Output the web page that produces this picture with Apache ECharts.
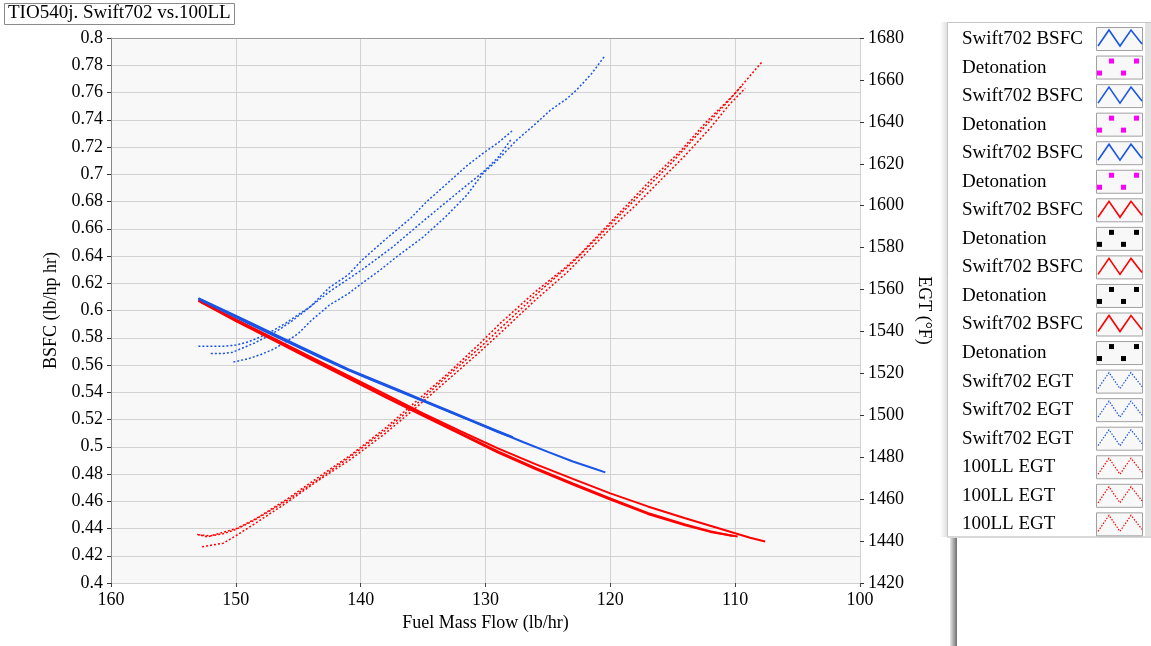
<!DOCTYPE html>
<html>
<head>
<meta charset="utf-8">
<script src="https://cdn.jsdelivr.net/npm/echarts/dist/echarts.min.js"></script>
<style>
html,body{margin:0;padding:0;background:#fff;}
#chart{width:1151px;height:646px;}
</style>
</head>
<body>
<div id="chart"></div>
<script>
// ---------- DATA ----------
const titleText = 'TIO540j. Swift702 vs.100LL';
const xTicks = [160, 150, 140, 130, 120, 110, 100];

// BSFC (left axis) – Swift702 (blue)
const blueBsfcX1 = [153, 151, 149, 147, 145, 143, 141, 139, 137, 135, 133, 131, 129, 127.8];
const blueBsfcY1 = [0.609, 0.6005, 0.5918, 0.583, 0.5742, 0.5655, 0.557, 0.5494, 0.5418, 0.5342, 0.5266, 0.519, 0.5114, 0.507];
const blueBsfcX2 = [152.8, 151, 149, 147, 145, 143, 141, 139, 137, 135, 133, 131, 129, 128.2];
const blueBsfcY2 = [0.6075, 0.5995, 0.5905, 0.5818, 0.5732, 0.5646, 0.5562, 0.5485, 0.541, 0.5335, 0.526, 0.5184, 0.5108, 0.508];
const blueBsfcX3 = [153, 151, 149, 147, 145, 143, 141, 139, 137, 135, 133, 131, 129, 127, 125, 123, 121.5, 120.4];
const blueBsfcY3 = [0.6085, 0.6, 0.5912, 0.5825, 0.5738, 0.565, 0.5566, 0.549, 0.5414, 0.5338, 0.5262, 0.5186, 0.511, 0.5035, 0.4962, 0.4892, 0.4846, 0.4812];

// BSFC (left axis) – 100LL (red)
const redBsfcX1 = [153, 150, 147, 144, 141, 138, 135, 132, 129, 126, 123, 120, 117, 114, 112, 110.2];
const redBsfcY1 = [0.607, 0.593, 0.579, 0.565, 0.551, 0.537, 0.5235, 0.51, 0.4965, 0.4845, 0.473, 0.462, 0.4515, 0.443, 0.438, 0.4345];
const redBsfcX2 = [152.8, 150, 147, 144, 141, 138, 135, 132, 129, 126, 123, 120, 117, 114, 112, 109.8];
const redBsfcY2 = [0.6062, 0.5922, 0.5782, 0.5642, 0.5502, 0.5362, 0.5227, 0.5092, 0.4957, 0.4837, 0.4722, 0.4612, 0.4507, 0.4423, 0.4375, 0.4342];
const redBsfcX3 = [153, 150, 147, 144, 141, 138, 135, 132, 129, 126, 123, 120, 117, 114, 112, 110, 108.8, 107.6];
const redBsfcY3 = [0.6075, 0.5935, 0.5797, 0.566, 0.5522, 0.5385, 0.5245, 0.5115, 0.4988, 0.4872, 0.4764, 0.4658, 0.4562, 0.4475, 0.442, 0.4365, 0.4332, 0.4305];

// EGT (right axis) – Swift702 (blue)
const blueEgtX1 = [153, 151, 150, 149, 148, 147, 146, 145, 144, 142.5, 141, 139.9, 138, 136, 134.7, 133, 131.5, 130.2, 129, 127.8];
const blueEgtY1 = [1533, 1533, 1533.5, 1535, 1537.5, 1540.5, 1544, 1548, 1552, 1561, 1567, 1574, 1584, 1594, 1602, 1611, 1619, 1625, 1630, 1636];
const blueEgtX2 = [152, 151, 150.3, 149.5, 148.5, 147.5, 146.5, 145.5, 144, 142.5, 140, 137.5, 135.2, 133.5, 131.8, 130.2, 129, 127.9];
const blueEgtY2 = [1529.5, 1529.5, 1530, 1532, 1534.5, 1537.5, 1541, 1545, 1552, 1559, 1569, 1580, 1591.6, 1600, 1608.3, 1616, 1623, 1632];
const blueEgtX3 = [150.2, 149, 148, 147, 146, 145, 144, 142.5, 141, 139.9, 138.5, 137.1, 135, 133.2, 131.5, 130.2, 129, 127.5, 126, 124.8, 123.5, 122.7, 121.5, 120.5];
const blueEgtY3 = [1525.4, 1527, 1529, 1531.5, 1535, 1539, 1545, 1552.6, 1558, 1563, 1569, 1575.7, 1585, 1594.7, 1605, 1615.4, 1622, 1631.3, 1639, 1645.6, 1651, 1655.2, 1663, 1671];

// EGT (right axis) – 100LL (red)
const redEgtX1 = [153.1, 152.3, 151.3, 149.9, 148.3, 145.9, 143.5, 140.8, 138, 135.5, 133, 130.5, 128.8, 126, 123.5, 122.4, 120, 118.4, 116.8, 114.4, 112.3, 110.1, 108.8, 107.8];
const redEgtY1 = [1443.2, 1442, 1443.7, 1446.1, 1451, 1460, 1470, 1481, 1494, 1507, 1520, 1534, 1544, 1559, 1571, 1577, 1592, 1602, 1612, 1626, 1640, 1653, 1662, 1669];
const redEgtX2 = [152.7, 151, 149.9, 148.3, 146, 143.5, 140.8, 138, 135.5, 133, 130.5, 128.5, 126, 123.5, 120, 118, 116, 114, 112, 110.5, 109.2];
const redEgtY2 = [1437.3, 1439, 1442.9, 1449, 1458, 1468.5, 1479, 1491.5, 1504, 1517, 1530, 1541, 1555, 1568, 1589, 1600, 1612, 1624, 1637, 1648, 1656];
const redEgtX3 = [153, 152, 151, 150, 148.5, 146, 143.5, 141, 138, 135.5, 133, 130.5, 128, 125.5, 123, 120, 117.5, 115, 113, 111, 109.5];
const redEgtY3 = [1443, 1442.5, 1443.5, 1445.5, 1450, 1459, 1469, 1479.5, 1493, 1505.5, 1519, 1532, 1546, 1560, 1573, 1591, 1606, 1621, 1634, 1647, 1657];

// Legend entries
const legendNames = ['Swift702 BSFC','Detonation','Swift702 BSFC','Detonation','Swift702 BSFC','Detonation',
  'Swift702 BSFC','Detonation','Swift702 BSFC','Detonation','Swift702 BSFC','Detonation',
  'Swift702 EGT','Swift702 EGT','Swift702 EGT','100LL EGT','100LL EGT','100LL EGT'];
const legendKinds = ['blueSolid','magentaDots','blueSolid','magentaDots','blueSolid','magentaDots',
  'redSolid','blackDots','redSolid','blackDots','redSolid','blackDots',
  'blueDotted','blueDotted','blueDotted','redDotted','redDotted','redDotted'];

// ---------- CHART ----------
const FONT = 'Liberation Serif';
const BLUE = '#1a55e6';
const RED = '#ff0000';
const zip = (xs, ys) => xs.map((x, i) => [x, ys[i]]);

function bsfc(xs, ys, color) {
  return { type:'line', xAxisIndex:0, yAxisIndex:0, data: zip(xs, ys), showSymbol:false, symbol:'none',
    lineStyle:{ color, width:2 }, itemStyle:{color}, z:3 };
}
function egt(xs, ys, color) {
  return { type:'line', xAxisIndex:0, yAxisIndex:1, data: zip(xs, ys), showSymbol:false, symbol:'none',
    lineStyle:{ color, width:1.5, type:[2,2] }, itemStyle:{color}, z:2 };
}

const series = [
  egt(blueEgtX1, blueEgtY1, BLUE), egt(blueEgtX2, blueEgtY2, BLUE), egt(blueEgtX3, blueEgtY3, BLUE),
  egt(redEgtX1, redEgtY1, RED), egt(redEgtX2, redEgtY2, RED), egt(redEgtX3, redEgtY3, RED),
  bsfc(redBsfcX1, redBsfcY1, RED), bsfc(redBsfcX2, redBsfcY2, RED), bsfc(redBsfcX3, redBsfcY3, RED),
  bsfc(blueBsfcX1, blueBsfcY1, BLUE), bsfc(blueBsfcX2, blueBsfcY2, BLUE), bsfc(blueBsfcX3, blueBsfcY3, BLUE)
];

// legend graphics
const graphics = [];
graphics.push({ type:'rect', shape:{x:940, y:22, width:8, height:515}, style:{fill:new echarts.graphic.LinearGradient(0,0,1,0,[{offset:0,color:'#ffffff'},{offset:1,color:'#dcdcdc'}])}, silent:true });
graphics.push({ type:'rect', shape:{x:947.5, y:22.5, width:203, height:514}, style:{fill:'#ffffff', stroke:'#c4c4c4', lineWidth:1}, silent:true });
graphics.push({ type:'rect', shape:{x:1145, y:23, width:6, height:513}, style:{fill:'#e2e2e2'}, silent:true });
graphics.push({ type:'rect', shape:{x:950, y:537, width:7, height:109}, style:{fill:new echarts.graphic.LinearGradient(0,0,1,0,[{offset:0,color:'#e8e8e8'},{offset:1,color:'#6e6e6e'}])}, silent:true });
graphics.push({ type:'rect', shape:{x:957, y:537, width:194, height:109}, style:{fill:'#ffffff'}, silent:true });
graphics.push({ type:'rect', shape:{x:947, y:536, width:204, height:2}, style:{fill:'#d8d8d8'}, silent:true });

legendNames.forEach((name, i) => {
  const y0 = 27 + i * 28.55;
  const bx = 1096;
  graphics.push({ type:'text', x:962, y:y0 + 12, style:{ text:name, font:'19px "' + FONT + '"', fill:'#000', verticalAlign:'middle', align:'left' }, silent:true });
  graphics.push({ type:'rect', shape:{x:bx + 0.5, y:y0 + 0.5, width:46, height:23}, style:{ fill:'#f8f8f8', stroke:'#a0a0a0', lineWidth:1 }, silent:true });
  const kind = legendKinds[i];
  if (kind.indexOf('Dots') >= 0) {
    const c = kind === 'magentaDots' ? '#ff00ff' : '#000000';
    [[13,3],[38,3],[1,15],[25,15]].forEach(p => {
      graphics.push({ type:'rect', shape:{x:bx + p[0], y:y0 + p[1], width:5, height:5}, style:{fill:c}, silent:true });
    });
  } else {
    const c = kind.indexOf('blue') === 0 ? BLUE : RED;
    const dotted = kind.indexOf('Dotted') >= 0;
    graphics.push({ type:'polyline', shape:{ points:[[bx+2,y0+19],[bx+13,y0+3],[bx+24,y0+19],[bx+35,y0+3],[bx+46,y0+17]] },
      style:{ stroke:c, lineWidth: dotted ? 1.2 : 1.6, fill:null, lineDash: dotted ? [1.5,1.5] : null }, silent:true });
  }
});

const chart = echarts.init(document.getElementById('chart'));
chart.setOption({
  animation:false,
  backgroundColor:'#ffffff',
  title:{ text:titleText, left:4, top:3, padding:[1,4,2,4], borderColor:'#8a8a8a', borderWidth:1,
    textStyle:{ fontFamily:FONT, fontSize:19, fontWeight:'normal', color:'#000' } },
  grid:{ left:111, right:291, top:38, bottom:63, show:true, backgroundColor:'#f8f8f8', borderWidth:0 },
  xAxis:[{
    type:'value', inverse:true, min:100, max:160, interval:10, position:'bottom',
    name:'Fuel Mass Flow (lb/hr)', nameLocation:'middle', nameGap:30,
    nameTextStyle:{ fontFamily:FONT, fontSize:18, color:'#000' },
    axisLine:{ show:true, lineStyle:{ color:'#d0d0d0' } },
    axisTick:{ show:true, length:4, lineStyle:{ color:'#444' } },
    axisLabel:{ margin:8, fontFamily:FONT, fontSize:18, color:'#000', formatter: v => String(v) },
    splitLine:{ show:true, lineStyle:{ color:'#d2d2d2', width:1 } }
  },{
    type:'value', inverse:true, min:100, max:160, interval:10, position:'top',
    axisLine:{ show:true, lineStyle:{ color:'#9a9a9a' } }, axisTick:{show:false}, axisLabel:{show:false}, splitLine:{show:false}
  }],
  yAxis:[{
    type:'value', min:0.4, max:0.8, interval:0.02, position:'left',
    name:'BSFC (lb/hp hr)', nameLocation:'middle', nameGap:40,
    nameTextStyle:{ fontFamily:FONT, fontSize:18, color:'#000' },
    axisLine:{ show:true, lineStyle:{ color:'#8a8a8a' } },
    axisTick:{ show:true, length:4, lineStyle:{ color:'#333' } },
    axisLabel:{ margin:8, fontFamily:FONT, fontSize:18, color:'#000' },
    splitLine:{ show:true, lineStyle:{ color:'#d2d2d2', width:1 } }
  },{
    type:'value', min:1420, max:1680, interval:20, position:'right',
    name:'EGT (°F)', nameLocation:'middle', nameRotate:-90, nameGap:46,
    nameTextStyle:{ fontFamily:FONT, fontSize:18, color:'#000' },
    axisLine:{ show:false },
    axisTick:{ show:true, length:4, lineStyle:{ color:'#333' } },
    axisLabel:{ margin:8, fontFamily:FONT, fontSize:18, color:'#000', formatter: v => String(v) },
    splitLine:{ show:false }
  }],
  series,
  graphic: graphics
});
</script>
</body>
</html>
